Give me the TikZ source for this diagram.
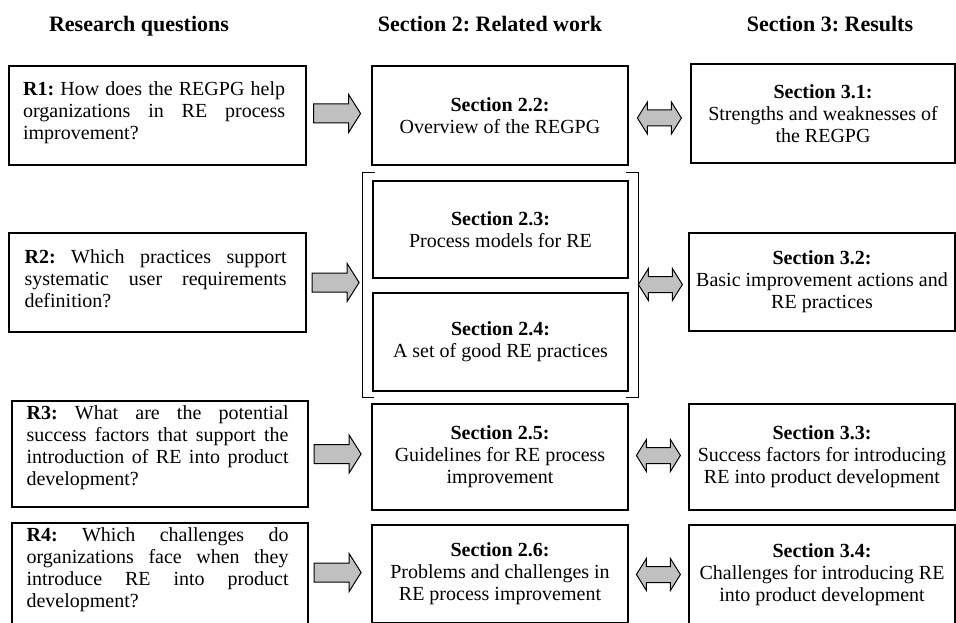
\documentclass[tikz,border=0pt]{standalone}
\usepackage{fontspec}
\setmainfont{Liberation Serif}
\usetikzlibrary{calc}
\frenchspacing
\definecolor{arrowgray}{RGB}{192,192,192}
\tikzset{
  box/.style={draw=black, line width=1.2pt, inner sep=0pt, align=center,
              font=\fontsize{20}{22}\selectfont},
  qtext/.style={inner sep=0pt, text width=262pt, align=justify, anchor=north west,
                font=\fontsize{20}{22}\selectfont},
  heading/.style={inner sep=0pt, anchor=base, font=\fontsize{22}{24}\selectfont\bfseries},
  arrowbody/.style={draw=black, line width=1pt, fill=arrowgray, line join=miter},
  bracket/.style={draw=black, line width=1.6pt},
  fatarrow/.pic={\path[arrowbody] (-23.5,-9.5) -- (11.5,-9.5) -- (11.5,-19) -- (23.5,0)
                  -- (11.5,19) -- (11.5,9.5) -- (-23.5,9.5) -- cycle;},
  dblarrow/.pic={\path[arrowbody] (-22,0) -- (-12,-16) -- (-12,-8) -- (12,-8) -- (12,-16)
                  -- (22,0) -- (12,16) -- (12,8) -- (-12,8) -- (-12,16) -- cycle;}
}
\begin{document}
\begin{tikzpicture}[x=1pt, y=-1pt]
\useasboundingbox (0,0) rectangle (956,623);

% column headings
\node[heading] (h1) at (139,32) {Research questions};
\node[heading] (h2) at (490,32) {Section 2: Related work};
\node[heading] (h3) at (830,32) {Section 3: Results};

% research questions (frames)
\node[box, minimum width=297pt, minimum height=99pt]  (r1) at (157.5,115.5) {};
\node[box, minimum width=297pt, minimum height=99pt]  (r2) at (157.5,282.5) {};
\node[box, minimum width=296pt, minimum height=106pt] (r3) at (160,454) {};
\node[box, minimum width=296pt, minimum height=102pt] (r4) at (160,574) {};

% research questions (texts)
\node[qtext] (r1t) at ([shift={(14.5,16)}]r1.north west)
  {\textbf{R1:} How does the REGPG help\linebreak organizations in RE process\linebreak improvement?};
\node[qtext] (r2t) at ([shift={(16,17)}]r2.north west)
  {\textbf{R2:} Which practices support\linebreak systematic user requirements\linebreak definition?};
\node[qtext] (r3t) at ([shift={(15,5)}]r3.north west)
  {\textbf{R3:} What are the potential\linebreak success factors that support the\linebreak introduction of RE into product\linebreak development?};
\node[qtext] (r4t) at ([shift={(15,5.5)}]r4.north west)
  {\textbf{R4:} Which challenges do\linebreak organizations face when they\linebreak introduce RE into product\linebreak development?};

% related work
\node[box, minimum width=256pt, minimum height=99pt]  (s22) at (500,115.5)
  {\textbf{Section 2.2:}\\Overview of the REGPG};
\node[box, minimum width=255pt, minimum height=97pt]  (s23) at (500.5,229.5)
  {\textbf{Section 2.3:}\\Process models for RE};
\node[box, minimum width=255pt, minimum height=98pt]  (s24) at (500.5,342)
  {\textbf{Section 2.4:}\\A set of good RE practices};
\node[box, minimum width=256pt, minimum height=106pt] (s25) at (500,457)
  {\textbf{Section 2.5:}\\Guidelines for RE process\\improvement};
\node[box, minimum width=256pt, minimum height=98pt] (s26) at (500,574)
  {\textbf{Section 2.6:}\\Problems and challenges in\\RE process improvement};

% bracket grouping sections 2.3 and 2.4
\draw[bracket] ($(s23.north west)+(3,-8)$) -- ++(-13,0) |- ($(s24.south west)+(2,6)$);
\draw[bracket] ($(s23.north east)+(-3,-8)$) -- ++(13,0) |- ($(s24.south east)+(-3,6)$);

% results
\node[box, minimum width=264pt, minimum height=99pt]  (s31) at (823,113.5)
  {\textbf{Section 3.1:}\\Strengths and weaknesses of\\the REGPG};
\node[box, minimum width=266pt, minimum height=98pt]  (s32) at (822,282)
  {\textbf{Section 3.2:}\\Basic improvement actions and\\RE practices};
\node[box, minimum width=266pt, minimum height=106pt] (s33) at (822,457)
  {\textbf{Section 3.3:}\\Success factors for introducing\\RE into product development};
\node[box, minimum width=266pt, minimum height=100pt] (s34) at (822,575)
  {\textbf{Section 3.4:}\\Challenges for introducing RE\\into product development};

% block arrows from questions to related work
\pic (a1) at ($(r1.east)+(30.5,-2)$) {fatarrow};
\pic (a2) at ($(r2.east)+(29,0)$) {fatarrow};
\pic (a3) at ($(r3.east)+(29,0)$) {fatarrow};
\pic (a4) at ($(r4.east)+(29,-1.5)$) {fatarrow};

% double block arrows between related work and results
\pic (d1) at ($(s31.west)+(-31,4.5)$) {dblarrow};
\pic (d2) at ($(s32.west)+(-28,2.5)$) {dblarrow};
\pic (d3) at ($(s33.west)+(-30,-1.5)$) {dblarrow};
\pic (d4) at ($(s34.west)+(-30,-0.5)$) {dblarrow};
\end{tikzpicture}
\end{document}
